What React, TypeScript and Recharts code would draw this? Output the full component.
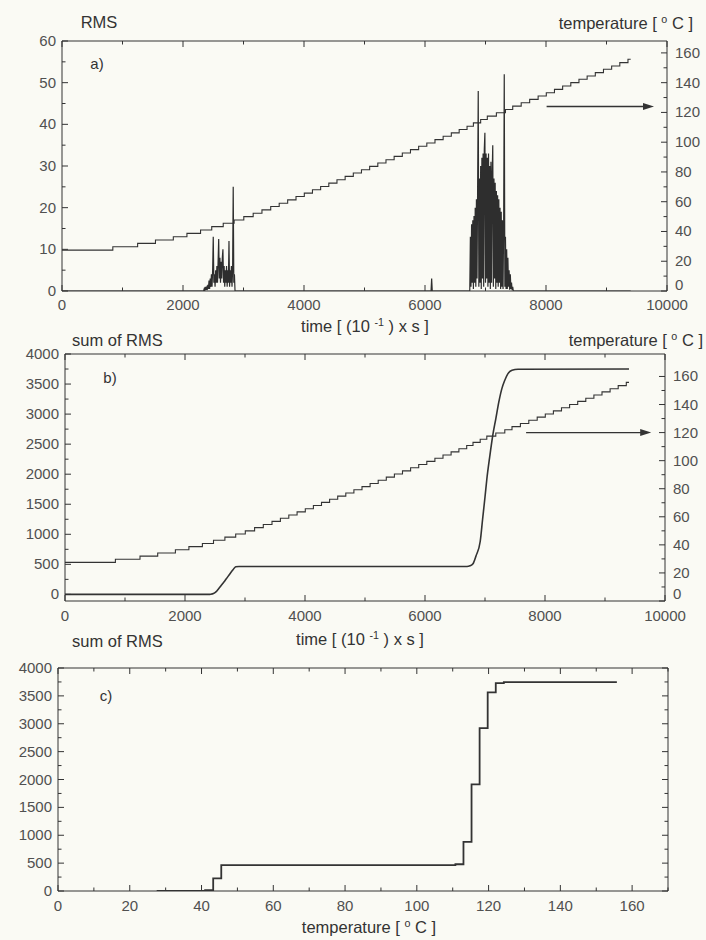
import React from 'react';
import { ComposedChart, Line, XAxis, YAxis, ReferenceLine } from 'recharts';

// ---------- data ----------
const timeTicks = [0, 1000, 2000, 3000, 4000, 5000, 6000, 7000, 8000, 9000, 10000];
const timeMajor = [0, 2000, 4000, 6000, 8000, 10000];
const rmsTicks = [0, 5, 10, 15, 20, 25, 30, 35, 40, 45, 50, 55, 60];
const rmsMajor = [0, 10, 20, 30, 40, 50, 60];
const tempTicksA = [0, 10, 20, 30, 40, 50, 60, 70, 80, 90, 100, 110, 120, 130, 140, 150, 160];
const tempMajor = [0, 20, 40, 60, 80, 100, 120, 140, 160];
const sumTicks = [0, 250, 500, 750, 1000, 1250, 1500, 1750, 2000, 2250, 2500, 2750, 3000, 3250, 3500, 3750, 4000];
const sumMajor = [0, 500, 1000, 1500, 2000, 2500, 3000, 3500, 4000];
const tempTicksC = [0, 10, 20, 30, 40, 50, 60, 70, 80, 90, 100, 110, 120, 130, 140, 150, 160, 170];
const tempMajorC = [0, 20, 40, 60, 80, 100, 120, 140, 160];

// temperature staircase: time at which each step starts, and its value
const tempStepTimes = [0, 840, 1250, 1545, 1840, 2065, 2290, 2475, 2665, 2845,
  3005, 3160, 3305, 3450, 3590, 3730, 3868, 4005, 4140, 4275,
  4410, 4545, 4680, 4815, 4950, 5085, 5220, 5355, 5490, 5625,
  5760, 5895, 6030, 6165, 6300, 6435, 6565, 6695, 6800, 6920,
  7030, 7180, 7330, 7450, 7590, 7730, 7870, 8005, 8140, 8275,
  8410, 8545, 8680, 8815, 8950, 9085, 9220, 9355, 9400];
const tempStepValues = [27.5, 29.75, 32, 34.25, 36.5, 38.75, 41, 43.25, 45.5, 47.75,
  50, 52.25, 54.5, 56.75, 59, 61.25, 63.5, 65.75, 68, 70.25,
  72.5, 74.75, 77, 79.25, 81.5, 83.75, 86, 88.25, 90.5, 92.75,
  95, 97.25, 99.5, 101.75, 104, 106.25, 108.5, 110.75, 113, 115.25,
  117.5, 119.75, 122, 124.25, 126.5, 128.75, 131, 133.25, 135.5, 137.75,
  140, 142.25, 144.5, 146.75, 149, 151.25, 153.5, 155.75, 155.75];

// RMS bursts, sampled every 10 time units
const burstStep = 10;
const burst1Start = 2340;
const burst1 = [0, 0.5, 0, 1, 0.3, 0.8, 0.2, 1.5, 0.5, 2.5, 0.5, 3, 1, 4, 1, 5, 13, 2, 4, 1,
  5, 2, 6, 2, 7, 12.5, 3, 8, 2, 7, 3, 8, 10, 2, 6, 1, 5, 2, 6, 1,
  5, 2, 12, 1, 5, 2, 6, 1, 5, 25, 2, 4, 0];
const burst2Start = 6740;
const burst2 = [0, 13, 1, 16, 2, 17, 0.5, 18, 2, 20, 1, 22, 3, 25, 48, 1, 27, 2, 30, 0.5,
  32, 3, 33, 1, 34, 38, 2, 33, 3, 32, 1, 33, 2, 30, 0.5, 31, 2, 28, 35, 1,
  27, 3, 26, 0.5, 24, 2, 23, 1, 22, 2, 20, 0.5, 19, 1, 17, 0.5, 16, 52, 1, 13,
  0.5, 10, 0.5, 8, 1, 5, 0.3, 4, 0.5, 2, 0.2, 1, 0];
const isolatedSpikeTimes = [6100, 6110, 6120];
const isolatedSpikeValues = [0, 3, 0];

// cumulative RMS vs time
const sumTimes = [0, 2400, 2430, 2475, 2520, 2560, 2600, 2640, 2665, 2700, 2750, 2800, 2845, 2900,
  6700, 6750, 6800, 6850, 6920, 6960, 7000, 7030, 7080, 7130, 7180, 7230, 7280, 7330, 7380, 7450, 7550, 9400];
const sumValues = [0, 0, 3, 15, 45, 95, 145, 195, 227, 275, 345, 410, 460, 465,
  465, 475, 510, 640, 880, 1250, 1620, 1912, 2300, 2650, 2922, 3200, 3420, 3563, 3670, 3728, 3745, 3750];

// cumulative RMS vs temperature
const cTemps = [27.5, 41, 41, 43.25, 43.25, 45.5, 45.5, 110.75, 110.75, 113, 113, 115.25, 115.25,
  117.5, 117.5, 119.75, 119.75, 122, 122, 124.25, 124.25, 155.75];
const cSums = [0, 0, 15, 15, 227, 227, 465, 465, 480, 480, 880, 880, 1912, 1912,
  2922, 2922, 3563, 3563, 3728, 3728, 3745, 3745];

// ---------- derived tables ----------
const tempData = tempStepTimes.map((t, i) => ({ t, v: tempStepValues[i] }));
const rmsData = [
  { t: 0, v: 0 },
  ...burst1.map((v, i) => ({ t: burst1Start + i * burstStep, v })),
  ...isolatedSpikeTimes.map((t, i) => ({ t, v: isolatedSpikeValues[i] })),
  ...burst2.map((v, i) => ({ t: burst2Start + i * burstStep, v })),
  { t: 9400, v: 0 },
];
const sumData = sumTimes.map((t, i) => ({ t, v: sumValues[i] }));
const cData = cTemps.map((T, i) => ({ T, v: cSums[i] }));

// ---------- styling ----------
const FONT = '"Liberation Sans", Arial, Helvetica, sans-serif';
const INK = '#333';
const TICK_INK = '#505050';
const BG = '#fafaf4';
const TICK_FS = 15;

type Orient = 'left' | 'right' | 'bottom' | 'top';

function makeTick(orient: Orient, margin: number, majors: number[], showLabels: boolean, dy = 5, zeroDy?: number) {
  return (props: any) => {
    const { x, y, payload } = props;
    const v = payload.value;
    const major = majors.includes(v);
    const len = major ? 6 : 3.5;
    let x1 = 0, y1 = 0, x2 = 0, y2 = 0;
    let text: React.ReactNode = null;
    const common = { fontFamily: FONT, fontSize: TICK_FS, fill: TICK_INK };
    const d = v === 0 && zeroDy !== undefined ? zeroDy : dy;
    if (orient === 'left') {
      const ax = x + margin;
      x1 = ax; x2 = ax + len; y1 = y2 = y;
      if (showLabels && major) text = <text x={x} y={y} dy={d} textAnchor="end" {...common}>{v}</text>;
    } else if (orient === 'right') {
      const ax = x - margin;
      x1 = ax; x2 = ax - len; y1 = y2 = y;
      if (showLabels && major) text = <text x={x} y={y} dy={d} textAnchor="start" {...common}>{v}</text>;
    } else if (orient === 'bottom') {
      const ay = y - margin;
      y1 = ay; y2 = ay - len; x1 = x2 = x;
      if (showLabels && major) text = <text x={x} y={y} dy={d} textAnchor="middle" {...common}>{v}</text>;
    } else {
      const ay = y + margin;
      y1 = ay; y2 = ay + len; x1 = x2 = x;
    }
    return (
      <g>
        <line x1={x1} y1={y1} x2={x2} y2={y2} stroke={INK} strokeWidth={1} />
        {text}
      </g>
    );
  };
}

const Arrow = (props: any) => {
  const { x1, y1, x2, y2 } = props;
  return (
    <g>
      <line x1={x1} y1={y1} x2={x2 - 8} y2={y2} stroke={INK} strokeWidth={1.3} />
      <polygon points={`${x2},${y2} ${x2 - 11},${y2 - 3.5} ${x2 - 11},${y2 + 3.5}`} fill={INK} />
    </g>
  );
};

const Txt = ({ x, y, anchor = 'middle', size = 16.5, children }: any) => {
  const tx = anchor === 'middle' ? '-50%' : anchor === 'end' ? '-100%' : '0';
  return (
    <div
      style={{
        position: 'absolute', left: x, top: y, transform: `translate(${tx}, -50%)`,
        fontFamily: FONT, fontSize: size, color: INK, whiteSpace: 'nowrap', lineHeight: 1,
      }}
    >
      {children}
    </div>
  );
};

const Sup = ({ children }: any) => (
  <span style={{ fontSize: '0.65em', position: 'relative', top: '-0.55em' }}>{children}</span>
);

const TempTitle = () => (
  <span>temperature [ <Sup>o</Sup> C ]</span>
);
const TimeTitle = () => (
  <span>time [ (10 <Sup>-1</Sup> ) x s ]</span>
);

const axisLine = { stroke: INK, strokeWidth: 1 };

export default function App() {
  return (
    <div style={{ position: 'absolute', left: 0, top: 0, width: 706, height: 940, background: BG, overflow: 'hidden' }}>
      {/* ---------------- panel a ---------------- */}
      <div style={{ position: 'absolute', left: 0, top: 0 }}>
        <ComposedChart width={706} height={335} margin={{ top: 11, right: 0, bottom: 0, left: 0 }}>
          <XAxis xAxisId="b" dataKey="t" type="number" domain={[0, 10000]} allowDataOverflow ticks={timeTicks}
            interval={0} tickSize={0} tickMargin={6} tickLine={false} axisLine={axisLine} height={44}
            tick={makeTick('bottom', 6, timeMajor, true, 13)} />
          <XAxis xAxisId="top" orientation="top" dataKey="t" type="number" domain={[0, 10000]} allowDataOverflow
            ticks={timeTicks} interval={0} tickSize={0} tickMargin={2} tickLine={false} axisLine={axisLine}
            height={30} tick={makeTick('top', 2, timeMajor, false)} />
          <YAxis yAxisId="l" type="number" domain={[0, 60]} allowDataOverflow ticks={rmsTicks} interval={0}
            tickSize={0} tickMargin={6} tickLine={false} axisLine={axisLine} width={62}
            tick={makeTick('left', 6, rmsMajor, true)} />
          <YAxis yAxisId="r" orientation="right" type="number" domain={[0, 168]} allowDataOverflow ticks={tempTicksA}
            interval={0} tickSize={0} tickMargin={8} tickLine={false} axisLine={axisLine} width={39}
            tick={makeTick('right', 8, tempMajor, true, 5, -1)} />
          <Line xAxisId="b" yAxisId="l" data={rmsData} dataKey="v" type="linear" dot={false}
            stroke="#2e2e2e" strokeWidth={1.2} isAnimationActive={false} />
          <Line xAxisId="b" yAxisId="r" data={tempData} dataKey="v" type="stepAfter" dot={false}
            stroke={INK} strokeWidth={1.1} isAnimationActive={false} />
          <ReferenceLine xAxisId="b" yAxisId="r" segment={[{ x: 8010, y: 124 }, { x: 9785, y: 124 }]}
            shape={Arrow} />
        </ComposedChart>
      </div>

      {/* ---------------- panel b ---------------- */}
      <div style={{ position: 'absolute', left: 0, top: 320 }}>
        <ComposedChart width={706} height={320} margin={{ top: 4, right: 0, bottom: 0, left: 0 }}>
          <XAxis xAxisId="b" dataKey="t" type="number" domain={[0, 10000]} allowDataOverflow ticks={timeTicks}
            interval={0} tickSize={0} tickMargin={6} tickLine={false} axisLine={axisLine} height={39}
            tick={makeTick('bottom', 6, timeMajor, true, 14)} />
          <XAxis xAxisId="top" orientation="top" dataKey="t" type="number" domain={[0, 10000]} allowDataOverflow
            ticks={timeTicks} interval={0} tickSize={0} tickMargin={2} tickLine={false} axisLine={axisLine}
            height={30} tick={makeTick('top', 2, timeMajor, false)} />
          <YAxis yAxisId="l" type="number" domain={[-110, 4000]} allowDataOverflow ticks={sumTicks} interval={0}
            tickSize={0} tickMargin={6} tickLine={false} axisLine={axisLine} width={65}
            tick={makeTick('left', 6, sumMajor, true)} />
          <YAxis yAxisId="r" orientation="right" type="number" domain={[0, 176]} allowDataOverflow ticks={tempTicksA}
            interval={0} tickSize={0} tickMargin={8} tickLine={false} axisLine={axisLine} width={41}
            tick={makeTick('right', 8, tempMajor, true, 5, -2)} />
          <Line xAxisId="b" yAxisId="r" data={tempData} dataKey="v" type="stepAfter" dot={false}
            stroke={INK} strokeWidth={1.1} isAnimationActive={false} />
          <Line xAxisId="b" yAxisId="l" data={sumData} dataKey="v" type="monotone" dot={false}
            stroke={INK} strokeWidth={1.6} isAnimationActive={false} />
          <ReferenceLine xAxisId="b" yAxisId="r" segment={[{ x: 7685, y: 120 }, { x: 9770, y: 120 }]}
            shape={Arrow} />
        </ComposedChart>
      </div>

      {/* ---------------- panel c ---------------- */}
      <div style={{ position: 'absolute', left: 0, top: 630 }}>
        <ComposedChart width={706} height={310} margin={{ top: 8, right: 0, bottom: 0, left: 0 }}>
          <XAxis xAxisId="b" dataKey="T" type="number" domain={[0, 170]} allowDataOverflow ticks={tempTicksC}
            interval={0} tickSize={0} tickMargin={6} tickLine={false} axisLine={axisLine} height={49}
            tick={makeTick('bottom', 6, tempMajorC, true, 13.5)} />
          <XAxis xAxisId="top" orientation="top" dataKey="T" type="number" domain={[0, 170]} allowDataOverflow
            ticks={tempTicksC} interval={0} tickSize={0} tickMargin={2} tickLine={false} axisLine={axisLine}
            height={30} tick={makeTick('top', 2, tempMajorC, false)} />
          <YAxis yAxisId="l" type="number" domain={[0, 4000]} allowDataOverflow ticks={sumTicks} interval={0}
            tickSize={0} tickMargin={6} tickLine={false} axisLine={axisLine} width={58}
            tick={makeTick('left', 6, sumMajor, true)} />
          <YAxis yAxisId="r" orientation="right" type="number" domain={[0, 4000]} allowDataOverflow ticks={sumTicks}
            interval={0} tickSize={0} tickMargin={8} tickLine={false} axisLine={axisLine} width={38}
            tick={makeTick('right', 8, sumMajor, false)} />
          <Line xAxisId="b" yAxisId="l" data={cData} dataKey="v" type="linear" dot={false}
            stroke={INK} strokeWidth={1.8} isAnimationActive={false} />
        </ComposedChart>
      </div>

      {/* ---------------- titles ---------------- */}
      <Txt x={99} y={22}>RMS</Txt>
      <Txt x={693} y={23} anchor="end"><TempTitle /></Txt>
      <Txt x={97} y={63} size={15}>a)</Txt>
      <Txt x={365} y={326}><TimeTitle /></Txt>

      <Txt x={72} y={340} anchor="start">sum of RMS</Txt>
      <Txt x={703} y={340} anchor="end"><TempTitle /></Txt>
      <Txt x={110} y={377} size={15}>b)</Txt>
      <Txt x={360} y={639}><TimeTitle /></Txt>

      <Txt x={72} y={641} anchor="start">sum of RMS</Txt>
      <Txt x={106} y={695} size={15}>c)</Txt>
      <Txt x={369} y={927}><TempTitle /></Txt>
    </div>
  );
}
